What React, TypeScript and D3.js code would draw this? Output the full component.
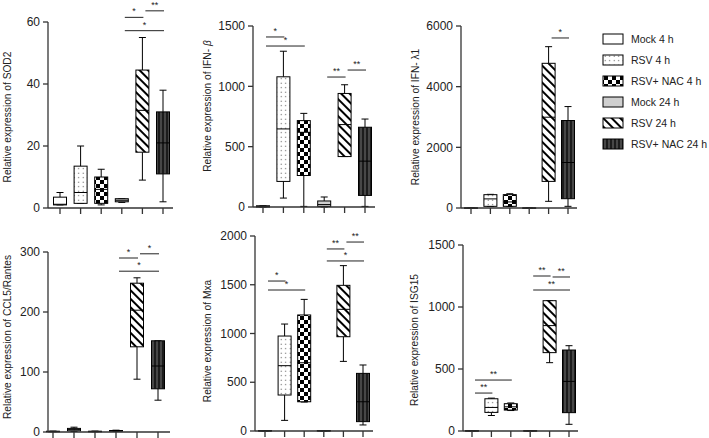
import React from "react";
import * as d3 from "d3";

// ---- data ----
const groups = ["Mock 4 h", "RSV 4 h", "RSV+ NAC 4 h", "Mock 24 h", "RSV 24 h", "RSV+ NAC 24 h"];
// each group: [min, q1, median, q3, max]
const sod2 = [[1, 1, 1.2, 3.5, 5], [1.5, 1.5, 5, 13.5, 20], [1, 1.5, 6, 10, 12.5], [1.8, 2, 2.5, 3, 3], [9, 18, 31.5, 44.5, 55], [2, 11, 21, 31, 38]];
const ifnb = [[0, 0, 5, 10, 10], [74, 212, 647, 1079, 1291], [5, 261, 619, 716, 776], [0, 5, 20, 50, 83], [418, 418, 683, 941, 1013], [5, 96, 380, 661, 729]];
const ifnl = [[0, 0, 0, 5, 5], [50, 55, 300, 440, 450], [50, 55, 200, 440, 470], [0, 0, 0, 5, 5], [220, 877, 2993, 4770, 5318], [55, 307, 1500, 2884, 3344]];
const ccl5 = [[0.5, 0.8, 1, 1.2, 1.5], [1, 2, 4, 6, 8], [0.5, 0.8, 1, 1.2, 1.5], [1, 1.5, 2, 2.5, 3], [88, 142, 203, 248, 257], [53, 72, 110, 152, 152]];
const mxa = [[0, 0, 0, 5, 5], [109, 369, 670, 974, 1097], [297, 300, 700, 1190, 1350], [0, 0, 0, 5, 5], [714, 967, 1248, 1494, 1696], [62, 96, 300, 591, 677]];
const isg15 = [[0, 0, 0, 3, 3], [125, 150, 190, 260, 265], [165, 169, 195, 220, 226], [0, 0, 0, 3, 3], [551, 632, 850, 1051, 1051], [54, 148, 400, 653, 688]];

const ticksSod2 = [0, 20, 40, 60];
const ticksIfnb = [0, 500, 1000, 1500];
const ticksIfnl = [0, 2000, 4000, 6000];
const ticksCcl5 = [0, 100, 200, 300];
const ticksMxa = [0, 500, 1000, 1500, 2000];
const ticksIsg15 = [0, 500, 1000, 1500];

// significance: [fromGroup, toGroup, yValue, label]
const sigSod2: [number, number, number, string][] = [[3, 4, 61.5, "*"], [4, 5, 63.6, "**"], [3, 5, 57.2, "*"]];
const sigIfnb: [number, number, number, string][] = [[0, 1, 1409, "*"], [0, 2, 1334, "*"], [3, 4, 1077, "**"], [4, 5, 1135, "**"]];
const sigIfnl: [number, number, number, string][] = [[4, 5, 5605, "*"]];
const sigCcl5: [number, number, number, string][] = [[3, 4, 290, "*"], [4, 5, 297, "*"], [3, 5, 268, "*"]];
const sigMxa: [number, number, number, string][] = [[0, 1, 1538, "*"], [0, 2, 1446, "*"], [3, 4, 1867, "**"], [4, 5, 1938, "**"], [3, 5, 1744, "*"]];
const sigIsg15: [number, number, number, string][] = [[0, 1, 306, "**"], [0, 2, 411, "**"], [3, 4, 1250, "**"], [4, 5, 1242, "**"], [3, 5, 1137, "**"]];

const fills = ["#ffffff", "url(#pDots)", "url(#pCheck)", "#cfcfcf", "url(#pStripe)", "url(#pDark)"];

type PanelDef = {
  data: number[][];
  ticks: number[];
  sig: [number, number, number, string][];
  label: React.ReactNode;
  ax: number;
  x0: number; x1: number; xEnd: number;
  yBot: number; yTop: number;
  labelX: number; labelY: number;
};

const panels: PanelDef[] = [
  { data: sod2, ticks: ticksSod2, sig: sigSod2, label: "Relative expression of SOD2", ax: 48, x0: 60, x1: 163, xEnd: 173, yBot: 208, yTop: 22, labelX: 11, labelY: 117 },
  { data: ifnb, ticks: ticksIfnb, sig: sigIfnb, label: <>Relative expression of IFN- <tspan fontStyle="italic">β</tspan></>, ax: 253, x0: 263, x1: 365, xEnd: 375, yBot: 207, yTop: 26, labelX: 211, labelY: 106 },
  { data: ifnl, ticks: ticksIfnl, sig: sigIfnl, label: "Relative expression of IFN- λ1", ax: 461, x0: 471, x1: 568, xEnd: 577, yBot: 208, yTop: 26, labelX: 419, labelY: 117 },
  { data: ccl5, ticks: ticksCcl5, sig: sigCcl5, label: "Relative expression of CCL5/Rantes", ax: 48, x0: 53, x1: 158, xEnd: 170, yBot: 432, yTop: 252, labelX: 11, labelY: 337 },
  { data: mxa, ticks: ticksMxa, sig: sigMxa, label: "Relative expression of Mxa", ax: 255, x0: 265, x1: 363, xEnd: 373, yBot: 431, yTop: 236, labelX: 211, labelY: 341 },
  { data: isg15, ticks: ticksIsg15, sig: sigIsg15, label: "Relative expression of ISG15", ax: 463, x0: 472, x1: 569, xEnd: 578, yBot: 431, yTop: 245, labelX: 418, labelY: 340 },
];

const AX = "#333";
const FONT = "Liberation Sans, Arial, Helvetica, sans-serif";

function Panel({ p }: { p: PanelDef }) {
  const maxT = p.ticks[p.ticks.length - 1];
  const y = d3.scaleLinear().domain([0, maxT]).range([p.yBot, p.yTop]);
  const x = d3.scalePoint<number>().domain(d3.range(groups.length)).range([p.x0, p.x1]);
  const bw = 13;
  const cw = 7;
  return (
    <g>
      {p.data.map((v, i) => {
        const cx = x(i)!;
        const [mn, q1, md, q3, mx] = v;
        return (
          <g key={i}>
            <line x1={cx} x2={cx} y1={y(q3)} y2={y(mx)} stroke="#000" strokeWidth={1} />
            <line x1={cx} x2={cx} y1={y(q1)} y2={y(mn)} stroke="#000" strokeWidth={1} />
            <line x1={cx - cw / 2} x2={cx + cw / 2} y1={y(mx)} y2={y(mx)} stroke="#000" strokeWidth={1} />
            <line x1={cx - cw / 2} x2={cx + cw / 2} y1={y(mn)} y2={y(mn)} stroke="#000" strokeWidth={1} />
            <rect x={cx - bw / 2} y={y(q3)} width={bw} height={Math.max(0.5, y(q1) - y(q3))} fill={fills[i]} stroke="#000" strokeWidth={1} />
            <line x1={cx - bw / 2} x2={cx + bw / 2} y1={y(md)} y2={y(md)} stroke="#000" strokeWidth={1} />
          </g>
        );
      })}
      <line x1={p.ax} x2={p.ax} y1={y(maxT)} y2={p.yBot} stroke={AX} strokeWidth={1.3} />
      <line x1={p.ax} x2={p.xEnd} y1={p.yBot} y2={p.yBot} stroke={AX} strokeWidth={1.3} />
      {p.ticks.map((t) => (
        <g key={t}>
          <line x1={p.ax - 5} x2={p.ax} y1={y(t)} y2={y(t)} stroke={AX} strokeWidth={1.3} />
          <text x={p.ax - 8} y={y(t)} dy="0.35em" textAnchor="end" fontSize={12} fill="#222" fontFamily={FONT}>{t}</text>
        </g>
      ))}
      {groups.map((g, i) => (
        <line key={g} x1={x(i)!} x2={x(i)!} y1={p.yBot} y2={p.yBot + 6} stroke={AX} strokeWidth={1.3} />
      ))}
      {p.sig.map(([a, b, v, lab], k) => {
        const xa = x(a)! + 3;
        const xb = x(b)! + 1;
        return (
          <g key={k}>
            <line x1={xa} x2={xb} y1={y(v)} y2={y(v)} stroke="#222" strokeWidth={1} />
            <text x={(xa + xb) / 2} y={y(v) - 3} textAnchor="middle" fontSize={9} fill="#222" fontFamily={FONT}>{lab}</text>
          </g>
        );
      })}
      <text transform={`translate(${p.labelX},${p.labelY}) rotate(-90)`} textAnchor="middle" fontSize={10.2} fill="#222" fontFamily={FONT}>{p.label}</text>
    </g>
  );
}

export default function App() {
  const legendY = d3.scalePoint<number>().domain(d3.range(groups.length)).range([39, 144]);
  return (
    <svg width={709} height={438} style={{ position: "absolute", left: 0, top: 0, background: "#fff" }}>
      <defs>
        <pattern id="pDots" width={4.5} height={4.5} patternUnits="userSpaceOnUse">
          <rect width={4.5} height={4.5} fill="#fff" />
          <circle cx={2.2} cy={2.2} r={0.6} fill="#555" />
        </pattern>
        <pattern id="pCheck" width={8} height={8} patternUnits="userSpaceOnUse">
          <rect width={8} height={8} fill="#fff" />
          <rect width={4} height={4} fill="#000" />
          <rect x={4} y={4} width={4} height={4} fill="#000" />
        </pattern>
        <pattern id="pStripe" width={6} height={6} patternUnits="userSpaceOnUse" patternTransform="rotate(-45)">
          <rect width={6} height={6} fill="#fff" />
          <rect width={2} height={6} fill="#000" />
        </pattern>
        <pattern id="pDark" width={4} height={4} patternUnits="userSpaceOnUse">
          <rect width={4} height={4} fill="#1c1c1c" />
          <path d="M0.5,0 L1.5,1 L0.5,2 L1.5,3 L0.5,4" stroke="#aaa" strokeWidth={0.6} fill="none" />
        </pattern>
      </defs>
      {panels.map((p, i) => (
        <Panel key={i} p={p} />
      ))}
      {groups.map((g, i) => (
        <g key={g}>
          <rect x={603} y={legendY(i)! - 5} width={20} height={10} fill={fills[i]} stroke="#000" strokeWidth={1} />
          <text x={631} y={legendY(i)!} dy="0.35em" fontSize={10.5} fill="#222" fontFamily={FONT}>{g}</text>
        </g>
      ))}
    </svg>
  );
}
